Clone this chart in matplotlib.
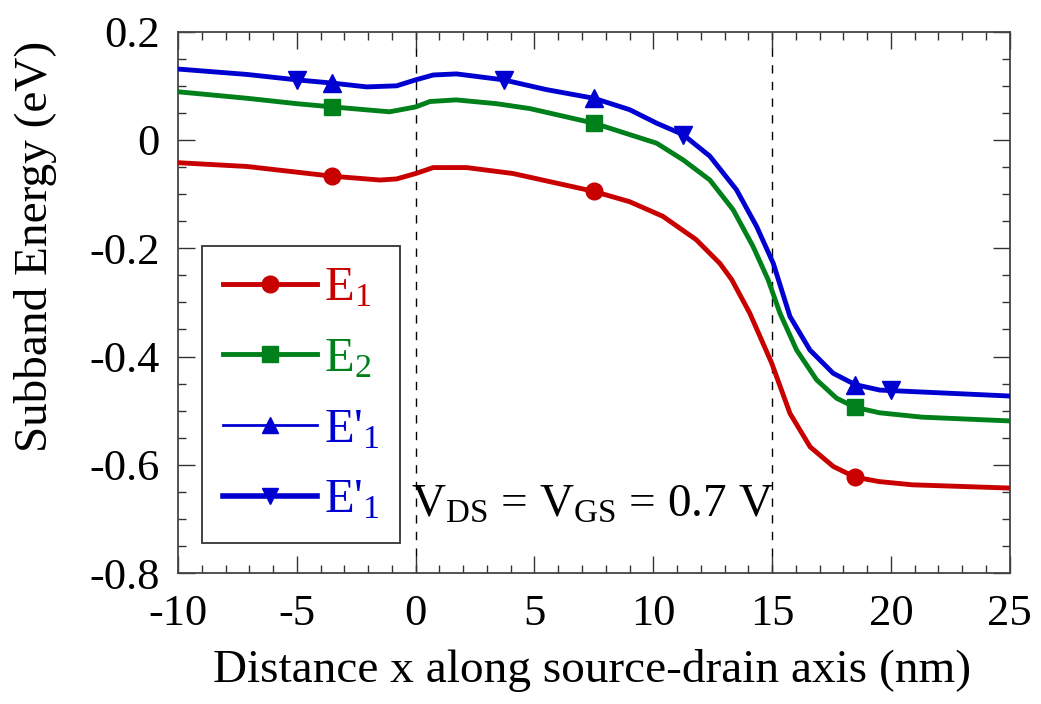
import matplotlib
matplotlib.use("Agg")
import matplotlib.pyplot as plt
from matplotlib.lines import Line2D
from matplotlib.ticker import MultipleLocator, FuncFormatter

plt.rcParams['font.family'] = ['Liberation Serif', 'DejaVu Serif']
plt.rcParams['mathtext.fontset'] = 'custom'
plt.rcParams['mathtext.rm'] = 'Liberation Serif'
plt.rcParams['mathtext.it'] = 'Liberation Serif:italic'
plt.rcParams['axes.unicode_minus'] = False

# ---- data ----
e1_x = [-10, -7.1, -3.5, -1.5, -0.8, 0, 0.74, 2.14, 4.1, 7.5, 9.0, 10.4, 11.8, 12.8, 13.3, 14.06,
        14.98, 15.75, 16.6, 17.57, 18.5, 19.5, 20.9, 25]
e1_y = [-0.042, -0.049, -0.067, -0.074, -0.072, -0.062, -0.051, -0.051, -0.062, -0.095, -0.114, -0.141,
        -0.184, -0.228, -0.258, -0.320, -0.412, -0.505, -0.567, -0.603, -0.623, -0.631, -0.637, -0.643]
e1_mx = [-3.5, 7.5, 18.5]
e1_my = [-0.067, -0.095, -0.623]

e2_x = [-10, -7.1, -5.0, -3.5, -1.1, 0, 0.6, 1.7, 3.4, 4.8, 7.5, 9.0, 10.14, 11.26, 12.38, 13.36, 14.2,
        14.83, 15.33, 16.03, 16.87, 17.71, 18.5, 19.53, 21.3, 25]
e2_y = [0.089, 0.077, 0.067, 0.061, 0.052, 0.061, 0.071, 0.074, 0.067, 0.058, 0.031, 0.010, -0.006,
        -0.037, -0.074, -0.129, -0.197, -0.258, -0.320, -0.388, -0.443, -0.477, -0.494, -0.504, -0.512, -0.519]
e2_mx = [-3.5, 7.5, 18.5]
e2_my = [0.061, 0.031, -0.494]

ep1_x = [-10, -7.1, -5.0, -3.5, -2.06, -0.8, 0, 0.74, 1.72, 3.7, 5.5, 7.5, 9.0, 10.14, 11.25, 12.38, 13.5,
         14.35, 15.05, 15.75, 16.59, 17.57, 18.5, 19.53, 22, 25]
ep1_y = [0.131, 0.121, 0.111, 0.105, 0.098, 0.100, 0.111, 0.120, 0.122, 0.111, 0.093, 0.077, 0.056, 0.031,
         0.010, -0.030, -0.092, -0.160, -0.228, -0.326, -0.388, -0.431, -0.452, -0.462, -0.467, -0.473]
ep1_up_mx = [-3.5, 7.5, 18.5]
ep1_up_my = [0.105, 0.077, -0.452]
ep1_dn_mx = [-5.0, 3.7, 11.25, 20]
ep1_dn_my = [0.111, 0.111, 0.010, -0.462]

labels = ["E$_1$", "E$_2$", "E'$_1$", "E'$_1$"]
boundaries = [0, 15]

red = '#C80000'
green = '#00801A'
blue = '#0000D0'

fig = plt.figure(figsize=(10.41, 7.04), dpi=100)
ax = fig.add_axes([0.171, 0.186, 0.799, 0.769])

for b in boundaries:
    ax.axvline(b, color='black', lw=1.0, ls=(0, (6, 6)), zorder=1)

kw = dict(solid_joinstyle='round', solid_capstyle='round', zorder=3)
ax.plot(e1_x, e1_y, color=red, lw=3.5, **kw)
ax.plot(e1_mx, e1_my, 'o', color=red, ms=12, zorder=4)
ax.plot(e2_x, e2_y, color=green, lw=3.5, **kw)
ax.plot(e2_mx, e2_my, 's', color=green, ms=12, zorder=4)
ax.plot(ep1_x, ep1_y, color=blue, lw=3.5, **kw)
ax.plot(ep1_x, ep1_y, color=blue, lw=1.5, **kw)
ax.plot(ep1_up_mx, ep1_up_my, '^', color=blue, ms=13, zorder=4)
ax.plot(ep1_dn_mx, ep1_dn_my, 'v', color=blue, ms=13, zorder=4)

ax.set_xlim(-10, 25)
ax.set_ylim(-0.8, 0.2)
ax.xaxis.set_major_locator(MultipleLocator(5))
ax.xaxis.set_minor_locator(MultipleLocator(1))
ax.yaxis.set_major_locator(MultipleLocator(0.2))
ax.yaxis.set_minor_locator(MultipleLocator(0.05))

def yfmt(v, pos):
    if abs(v) < 1e-9:
        return '0'
    return '%.1f' % v
ax.yaxis.set_major_formatter(FuncFormatter(yfmt))

ax.tick_params(which='both', direction='in', top=True, right=True, color='#333333', width=1.0)
ax.tick_params(which='major', length=12, labelsize=32)
ax.tick_params(which='minor', length=6)
ax.tick_params(axis='x', which='major', pad=15)
ax.tick_params(axis='y', which='major', pad=13)
for s in ax.spines.values():
    s.set_color('#444444')
    s.set_linewidth(1.3)

ax.set_xlabel('Distance x along source-drain axis (nm)', fontsize=34)
ax.xaxis.set_label_coords(0.498, -0.140)
ax.set_ylabel('Subband Energy (eV)', fontsize=34)
ax.yaxis.set_label_coords(-0.146, 0.603)

ax.text(-0.2, -0.676, 'V$_{\\mathrm{DS}}$ = V$_{\\mathrm{GS}}$ = 0.7 V', fontsize=34,
        va='center', ha='left', zorder=5)

handles = [
    Line2D([], [], color=red, lw=3.5, marker='o', ms=12),
    Line2D([], [], color=green, lw=3.5, marker='s', ms=12),
    Line2D([], [], color=blue, lw=2.0, marker='^', ms=12),
    Line2D([], [], color=blue, lw=4.0, marker='v', ms=12),
]
leg = ax.legend(handles, labels, loc='lower left', bbox_to_anchor=(0.029, 0.055), borderaxespad=0,
                fontsize=35, handlelength=1.95, handletextpad=0.14, labelspacing=0.55,
                borderpad=0.42, fancybox=False, framealpha=1, edgecolor='#333333')
leg.get_frame().set_linewidth(1.3)
for t, c in zip(leg.get_texts(), [red, green, blue, blue]):
    t.set_color(c)

fig.savefig('out.png', dpi=100)
